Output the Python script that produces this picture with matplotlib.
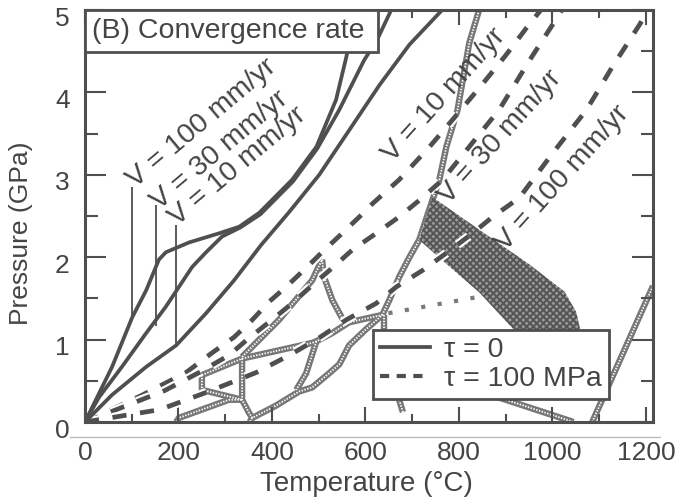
import matplotlib
matplotlib.use("Agg")
import matplotlib.pyplot as plt
import matplotlib.transforms as mtransforms
from matplotlib.lines import Line2D
from matplotlib.patches import Polygon, Rectangle
import matplotlib.patheffects as pe

plt.rcParams['font.family'] = ['Liberation Sans', 'DejaVu Sans']
plt.rcParams['hatch.linewidth'] = 1.4

INK = '#4f4f4f'
TXT = '#444444'

# P-T paths with no shear heating (tau = 0), temperature in C, pressure in GPa
solid_v100_T = [0, 58, 101, 131, 158, 173, 223, 287, 330, 373, 415, 443, 495, 537, 559, 580]
solid_v100_P = [0, 0.67, 1.27, 1.60, 1.97, 2.06, 2.18, 2.29, 2.37, 2.54, 2.78, 2.94, 3.34, 3.91, 4.43, 5.0]
solid_v30_T = [0, 30, 79, 131, 173, 201, 229, 259, 293, 332, 375, 417, 445, 497, 544, 597, 625, 655]
solid_v30_P = [0, 0.30, 0.67, 1.08, 1.40, 1.64, 1.88, 2.06, 2.25, 2.36, 2.52, 2.76, 2.92, 3.32, 3.79, 4.39, 4.64, 5.0]
solid_v10_T = [0, 58, 131, 195, 259, 319, 377, 437, 501, 565, 630, 694, 764]
solid_v10_P = [0, 0.33, 0.67, 0.93, 1.32, 1.72, 2.15, 2.55, 3.0, 3.54, 4.09, 4.58, 5.0]

# P-T paths with shear stress tau = 100 MPa
dash_v10_T = [0, 120, 216, 272, 319, 358, 394, 432, 473, 507, 550, 587, 615, 672, 737, 794, 850, 900, 944, 975]
dash_v10_P = [0, 0.32, 0.60, 0.84, 1.03, 1.24, 1.46, 1.65, 1.87, 2.06, 2.29, 2.49, 2.65, 2.94, 3.34, 3.72, 4.10, 4.45, 4.78, 5.0]
dash_v30_T = [0, 170, 244, 308, 351, 400, 443, 486, 529, 572, 623, 672, 715, 765, 829, 886, 951, 1000, 1020]
dash_v30_P = [0, 0.38, 0.60, 0.81, 1.02, 1.24, 1.44, 1.66, 1.87, 2.09, 2.29, 2.49, 2.69, 2.94, 3.39, 3.79, 4.39, 4.82, 5.0]
dash_v100_T = [0, 160, 260, 366, 437, 495, 559, 623, 666, 722, 773, 829, 872, 929, 1000, 1073, 1128, 1186, 1205]
dash_v100_P = [0, 0.15, 0.36, 0.60, 0.81, 1.00, 1.24, 1.44, 1.64, 1.84, 2.05, 2.29, 2.49, 2.72, 3.26, 3.79, 4.31, 4.82, 5.0]

# leader lines from the left labels down to their curves
leader_T = [100, 152, 195]
leader_top = [2.85, 2.63, 2.39]
leader_bot = [1.27, 1.17, 0.93]

# metamorphic facies boundaries (stippled)
facies_lines = [
    ([843, 822, 797, 773, 758, 743, 715, 694, 672, 651, 636, 600, 565, 544, 522, 486, 458, 409, 358, 352],
     [5.0, 4.6, 3.79, 3.34, 2.94, 2.69, 2.21, 2.0, 1.76, 1.48, 1.30, 1.12, 0.93, 0.70, 0.59, 0.42, 0.37, 0.20, 0.05, 0.0]),
    ([336, 415, 486, 507], [0.79, 1.24, 1.72, 1.97]),
    ([507, 512, 529, 550, 565], [1.97, 1.75, 1.48, 1.26, 1.21]),
    ([250, 259, 336, 415, 486, 495, 529, 565, 636], [0.57, 0.59, 0.77, 0.87, 0.96, 0.98, 1.08, 1.21, 1.30]),
    ([336, 336, 351, 358], [0.77, 0.27, 0.11, 0.05]),
    ([250, 250, 336], [0.57, 0.39, 0.27]),
    ([195, 201, 308, 336], [0.0, 0.05, 0.27, 0.27]),
    ([495, 473, 452], [0.98, 0.59, 0.39]),
    ([640, 640], [1.30, 1.05]),
    ([1085, 1215], [0.0, 1.65]),
    ([830, 1045], [0.40, 0.0]),
    ([672, 680], [0.27, 0.12]),
]
dotted_T = [649, 843]
dotted_P = [1.32, 1.52]

# shaded field
band_T = [743, 844, 951, 1026, 1051, 1062, 929, 844, 769, 715]
band_P = [2.73, 2.33, 1.91, 1.58, 1.33, 1.05, 1.05, 1.57, 1.94, 2.21]

left_labels = ['V = 100 mm/yr', 'V = 30 mm/yr', 'V = 10 mm/yr']
left_label_T = [250, 289, 327]
left_label_P = [3.62, 3.30, 3.10]
right_labels = ['V = 10 mm/yr', 'V = 30 mm/yr', 'V = 100 mm/yr']
right_label_T = [769, 889, 1021]
right_label_P = [3.97, 3.46, 2.96]

fig = plt.figure(figsize=(6.79, 4.97), dpi=100)
ax = fig.add_axes([85 / 679, 1 - 422 / 497, 568 / 679, 412 / 497])
ax.set_xlim(0, 1215)
ax.set_ylim(0, 5)

# facies boundaries drawn as a grey stipple
for xs, ys in facies_lines:
    ax.plot(xs, ys, color='#777777', lw=4.6, solid_capstyle='butt', zorder=1)
    ax.plot(xs, ys, color='white', lw=1.3, ls=(0, (0.8, 0.8)), zorder=1.1)
ax.plot(dotted_T, dotted_P, color='#7a7a7a', lw=3, ls=(0, (1, 3)), zorder=1)

band = Polygon(list(zip(band_T, band_P)), closed=True, facecolor='#9a9a9a',
               edgecolor='#555555', hatch='xxxxx', lw=0, zorder=1.2)
ax.add_patch(band)

halo = [pe.Stroke(linewidth=6.5, foreground='white'), pe.Normal()]
for xs, ys in [(dash_v10_T, dash_v10_P), (dash_v30_T, dash_v30_P), (dash_v100_T, dash_v100_P)]:
    ax.plot(xs, ys, color=INK, lw=3.4, dashes=(3.0, 2.9), dash_capstyle='butt',
            path_effects=halo, zorder=2)

for xs, ys in [(solid_v100_T, solid_v100_P), (solid_v30_T, solid_v30_P), (solid_v10_T, solid_v10_P)]:
    ax.plot(xs, ys, color=INK, lw=2.7, solid_joinstyle='round', zorder=3)

ax.vlines(leader_T, leader_bot, leader_top, color=INK, lw=1.3, zorder=3)

for s, x, y in zip(left_labels, left_label_T, left_label_P):
    ax.text(x, y, s, rotation=40, rotation_mode='anchor', ha='center', va='center',
            fontsize=20.5, color=TXT, zorder=4)
for s, x, y in zip(right_labels, right_label_T, right_label_P):
    ax.text(x, y, s, rotation=48, rotation_mode='anchor', ha='center', va='center',
            fontsize=20.5, color=TXT, zorder=4)

# panel title box
ax.add_patch(Rectangle((0, 0.898), 0.516, 0.102, transform=ax.transAxes,
                       facecolor='white', edgecolor=INK, lw=2, zorder=5, clip_on=False))
ax.text(0.012, 0.949, '(B) Convergence rate', transform=ax.transAxes, fontsize=20.5,
        color=TXT, ha='left', va='center', zorder=6)

handles = [Line2D([], [], color=INK, lw=2.7),
           Line2D([], [], color=INK, lw=3.0, dashes=(2.2, 1.8), dash_capstyle='butt')]
leg = ax.legend(handles, ['τ = 0', 'τ = 100 MPa'], loc='upper left',
                bbox_to_anchor=(0.507, 0.223), borderaxespad=0, fontsize=20.5,
                handlelength=1.75, handletextpad=0.5, labelspacing=0.1,
                borderpad=0.25, fancybox=False, framealpha=1, edgecolor=INK)
leg.get_frame().set_linewidth(2)
leg.set_zorder(7)
for t in leg.get_texts():
    t.set_color(TXT)

for sp in ax.spines.values():
    sp.set_color(INK)
    sp.set_linewidth(2.2)

ax.set_xticks(range(0, 1201, 200))
ax.set_xticks(range(0, 1201, 100), minor=True)
ax.set_yticks(range(0, 6))
ax.set_yticks([0.5, 1.5, 2.5, 3.5, 4.5], minor=True)
ax.tick_params(which='both', direction='in', top=True, right=True, color=INK,
               width=1.5, labelsize=19, labelcolor=TXT)
ax.tick_params(axis='x', which='major', length=11, pad=14)
ax.tick_params(axis='x', which='minor', length=6)
ax.tick_params(axis='y', which='major', length=15, pad=11)
ax.tick_params(axis='y', which='minor', length=9)

# pressure numbers sit slightly below their ticks
shift = mtransforms.ScaledTranslation(0, -0.06, fig.dpi_scale_trans)
for lab in ax.get_yticklabels():
    lab.set_transform(lab.get_transform() + shift)

ax.set_xlabel('Temperature (°C)', fontsize=20, color=TXT)
ax.set_ylabel('Pressure (GPa)', fontsize=19, color=TXT)
ax.xaxis.set_label_coords(0.496, -0.12)
ax.yaxis.set_label_coords(-0.092, 0.459)

# faint rule under the frame
fig.add_artist(Line2D([70 / 679, 660 / 679], [1 - 437 / 497] * 2, color='#b8bec6', lw=1))

fig.savefig('out.png', dpi=100, facecolor='white')
